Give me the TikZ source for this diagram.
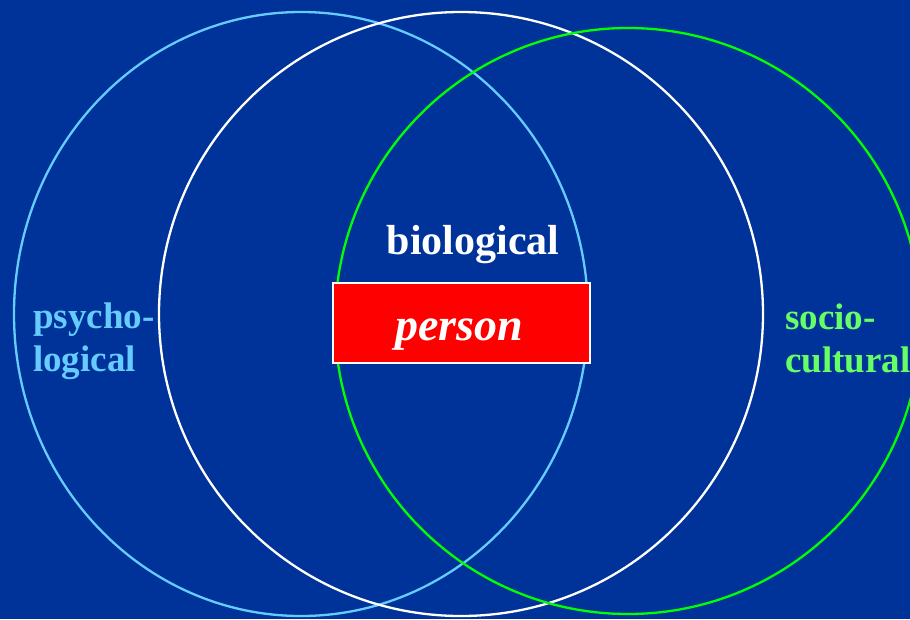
\documentclass[tikz,border=0pt]{standalone}
\usepackage{fontspec}
\setmainfont{Liberation Serif}
\definecolor{bg}{RGB}{0,51,153}
\definecolor{lblue}{RGB}{102,204,255}
\definecolor{lgreen}{RGB}{102,255,102}
\definecolor{brgreen}{RGB}{0,255,0}
\begin{document}
\begin{tikzpicture}[x=1pt,y=-1pt,
  ring/.style={line width=2.3pt},
  lbl/.style={font=\bfseries\fontsize{37}{43}\selectfont, inner sep=0pt, anchor=base west, align=left}]
\useasboundingbox[fill=bg] (0,0) rectangle (910,619);
\draw[ring, lblue] (301,314) ellipse [x radius=287, y radius=302];
\draw[ring, white] (461,314) circle [radius=302];
\draw[ring, brgreen] (628,321) circle [radius=293];
\node[draw=white, line width=2pt, fill=red, minimum width=257, minimum height=80, inner sep=0pt] (box) at (461.5,323) {};
\node[font=\bfseries\itshape\fontsize{46}{50}\selectfont, text=white, inner sep=0pt, anchor=base] (person) at (459,340) {person};
\node[font=\bfseries\fontsize{42}{46}\selectfont, text=white, inner sep=0pt, anchor=base] (bio) at (473,254) {biological};
\node[lbl, text=lblue] (psy) at (33,328) {psycho-};
\node[lbl, text=lblue] (psy2) at (33,371) {logical};
\node[lbl, text=lgreen] (soc) at (785,329) {socio-};
\node[lbl, text=lgreen] (soc2) at (785,372) {cultural};
\end{tikzpicture}
\end{document}
